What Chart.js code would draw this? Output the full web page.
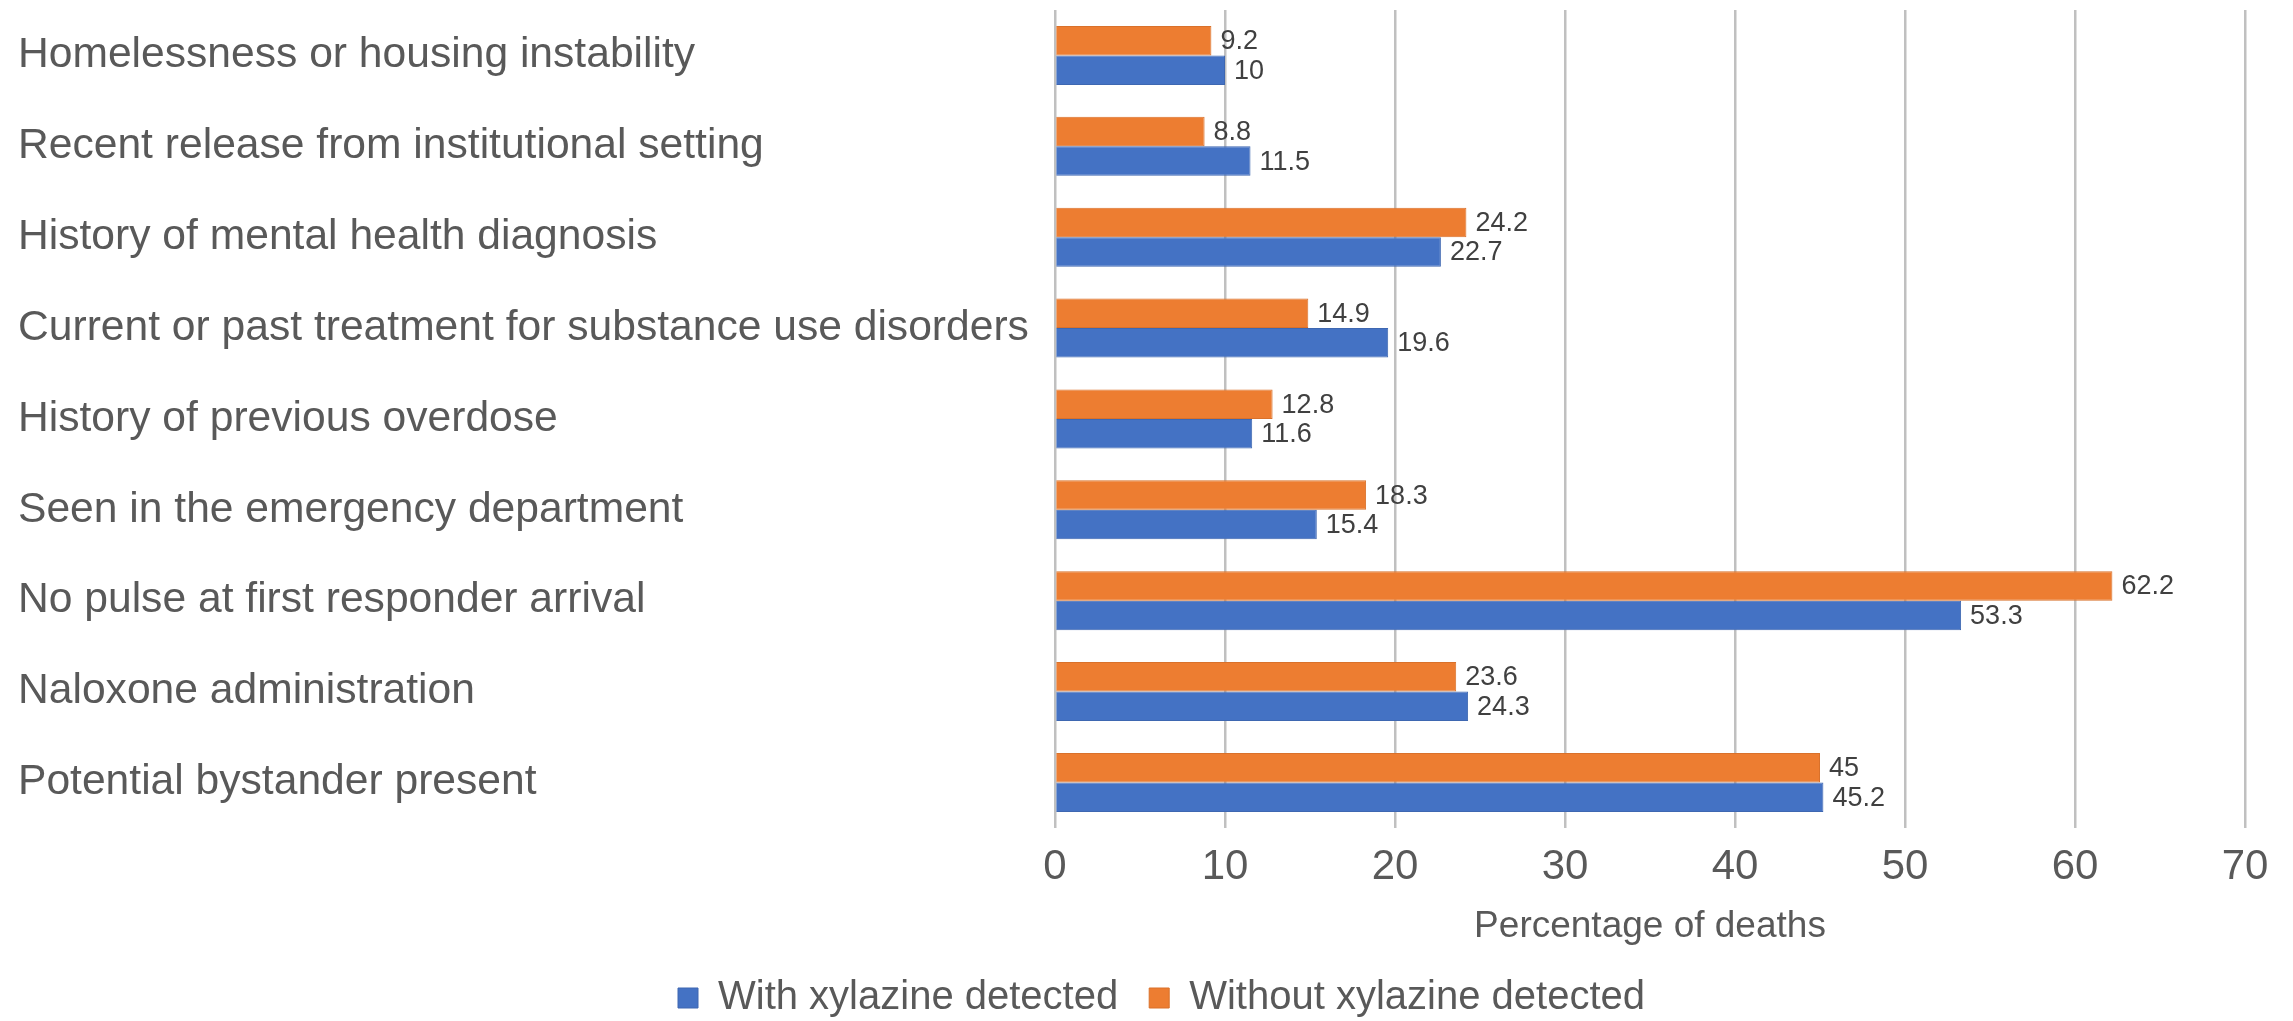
<!DOCTYPE html>
<html>
<head>
<meta charset="utf-8">
<script src="https://cdn.jsdelivr.net/npm/chart.js@4"></script>
<style>
  html, body { margin: 0; padding: 0; background: #ffffff; }
  #wrap { width: 2293px; height: 1021px; position: relative; }
</style>
</head>
<body>
<div id="wrap"><canvas id="c"></canvas></div>
<script>
const categories = [
  "Homelessness or housing instability",
  "Recent release from institutional setting",
  "History of mental health diagnosis",
  "Current or past treatment for substance use disorders",
  "History of previous overdose",
  "Seen in the emergency department",
  "No pulse at first responder arrival",
  "Naloxone administration",
  "Potential bystander present"
];
const withXylazine = [10, 11.5, 22.7, 19.6, 11.6, 15.4, 53.3, 24.3, 45.2];
const withoutXylazine = [9.2, 8.8, 24.2, 14.9, 12.8, 18.3, 62.2, 23.6, 45];
const seriesNames = ["With xylazine detected", "Without xylazine detected"];
const xTicks = [0, 10, 20, 30, 40, 50, 60, 70];
const axisTitle = "Percentage of deaths";

const FONT = "'Liberation Sans', Arial, sans-serif";
const TXT = "#595959";

const valueLabels = {
  id: 'valueLabels',
  afterDatasetsDraw(chart) {
    const ctx = chart.ctx;
    ctx.save();
    ctx.font = "27px " + FONT;
    ctx.fillStyle = "#404040";
    ctx.textAlign = "left";
    ctx.textBaseline = "middle";
    chart.data.datasets.forEach((ds, di) => {
      const meta = chart.getDatasetMeta(di);
      if (meta.hidden) return;
      meta.data.forEach((el, i) => {
        ctx.fillText(String(ds.data[i]), el.x + 9, el.y + 1);
      });
    });
    ctx.restore();
  }
};

const legendShift = {
  id: 'legendShift',
  afterLayout(chart) {
    const l = chart.legend;
    if (l) { l.left += 30; l.right += 30; }
  }
};

new Chart(document.getElementById('c'), {
  type: 'bar',
  data: {
    labels: categories,
    datasets: [
      {
        label: seriesNames[1],
        data: withoutXylazine,
        backgroundColor: '#ED7D31',
        borderColor: '#D9712B',
        borderWidth: 1,
        categoryPercentage: 0.65,
        barPercentage: 1.0
      },
      {
        label: seriesNames[0],
        data: withXylazine,
        backgroundColor: '#4472C4',
        borderColor: '#3E67B1',
        borderWidth: 1,
        categoryPercentage: 0.65,
        barPercentage: 1.0
      }
    ]
  },
  options: {
    indexAxis: 'y',
    responsive: true,
    maintainAspectRatio: false,
    animation: false,
    layout: { padding: { left: 18, right: 48, top: 10, bottom: -7 } },
    plugins: {
      legend: {
        position: 'bottom',
        reverse: true,
        labels: {
          boxWidth: 20,
          boxHeight: 20,
          padding: 31,
          color: TXT,
          font: { family: FONT, size: 40 }
        }
      },
      tooltip: { enabled: false }
    },
    scales: {
      x: {
        min: 0,
        max: 70,
        afterBuildTicks(scale) { scale.ticks = xTicks.map(v => ({ value: v })); },
        grid: { color: '#C0C0C0', lineWidth: 2.5, drawTicks: false },
        border: { display: false },
        ticks: {
          color: TXT,
          padding: 14,
          font: { family: FONT, size: 42 }
        },
        title: {
          display: true,
          text: axisTitle,
          color: TXT,
          padding: { top: 0, bottom: 0 },
          font: { family: FONT, size: 37, lineHeight: 1.1 }
        }
      },
      y: {
        grid: { display: false, drawTicks: false },
        border: { display: false },
        afterFit(scale) { scale.paddingTop = 0; scale.paddingBottom = 0; scale.width = 1037; },
        ticks: {
          crossAlign: 'far',
          color: TXT,
          padding: 20,
          font: { family: FONT, size: 42.6 }
        }
      }
    }
  },
  plugins: [valueLabels, legendShift]
});
</script>
</body>
</html>
